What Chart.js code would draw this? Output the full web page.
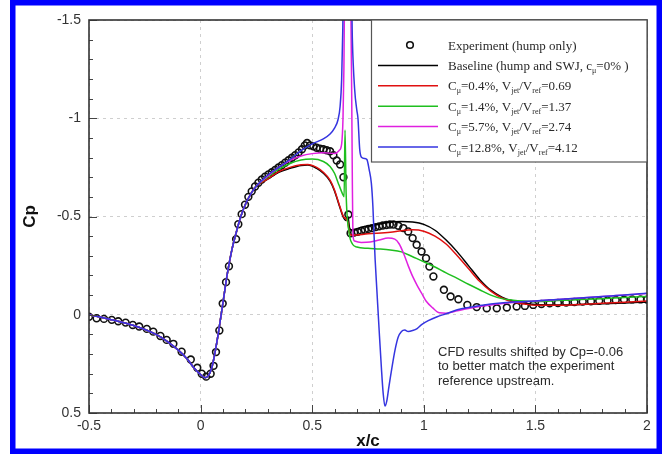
<!DOCTYPE html>
<html>
<head>
<meta charset="utf-8">
<script src="https://cdn.jsdelivr.net/npm/chart.js@4.4.1/dist/chart.umd.min.js"></script>
<style>
  html, body { margin: 0; padding: 0; background: #fff; }
  #cp-chart { display: block; }
</style>
</head>
<body>
<canvas id="cp-chart" width="666" height="454"></canvas>
<script>
// Wall pressure coefficient over the hump: experiment vs. CFD with sweeping jet blowing

const xTicks = [-0.5, 0, 0.5, 1, 1.5, 2];
const yTicks = [-1.5, -1, -0.5, 0, 0.5];

// experiment, hump only
const expX = [-0.5, -0.466, -0.433, -0.398, -0.369, -0.336, -0.304, -0.275, -0.241, -0.212,
  -0.18, -0.152, -0.122, -0.085, -0.044, -0.015, 0.005, 0.025, 0.045, 0.058,
  0.069, 0.084, 0.099, 0.114, 0.127, 0.159, 0.169, 0.184, 0.199, 0.214,
  0.229, 0.244, 0.259, 0.274, 0.289, 0.304, 0.319, 0.334, 0.349, 0.364,
  0.379, 0.394, 0.409, 0.424, 0.439, 0.454, 0.467, 0.477, 0.49, 0.505,
  0.52, 0.535, 0.55, 0.565, 0.58, 0.595, 0.61, 0.625, 0.64, 0.662,
  0.672, 0.688, 0.704, 0.72, 0.736, 0.752, 0.768, 0.784, 0.8, 0.816,
  0.832, 0.848, 0.864, 0.886, 0.908, 0.93, 0.95, 0.968, 0.99, 1.01,
  1.025, 1.043, 1.09, 1.12, 1.155, 1.195, 1.237, 1.282, 1.327, 1.372,
  1.416, 1.453, 1.49, 1.527, 1.564, 1.601, 1.638, 1.675, 1.712, 1.749,
  1.786, 1.823, 1.86, 1.897, 1.934, 1.971, 2.0];
const expCp = [0.01, 0.018, 0.021, 0.026, 0.033, 0.04, 0.052, 0.06, 0.072, 0.086,
  0.108, 0.128, 0.148, 0.188, 0.228, 0.27, 0.3, 0.315, 0.3, 0.26,
  0.19, 0.08, -0.057, -0.166, -0.247, -0.385, -0.461, -0.512, -0.56, -0.6,
  -0.628, -0.653, -0.672, -0.688, -0.703, -0.714, -0.725, -0.737, -0.749, -0.761,
  -0.774, -0.786, -0.799, -0.812, -0.826, -0.842, -0.862, -0.874, -0.862, -0.857,
  -0.85, -0.845, -0.842, -0.837, -0.832, -0.812, -0.785, -0.765, -0.7, -0.51,
  -0.415, -0.418, -0.422, -0.427, -0.432, -0.437, -0.441, -0.446, -0.45, -0.454,
  -0.457, -0.459, -0.459, -0.453, -0.441, -0.424, -0.39, -0.356, -0.322, -0.288,
  -0.245, -0.195, -0.127, -0.093, -0.079, -0.05, -0.039, -0.033, -0.033, -0.037,
  -0.042, -0.045, -0.05, -0.055, -0.058, -0.06, -0.062, -0.065, -0.067, -0.069,
  -0.071, -0.073, -0.075, -0.077, -0.078, -0.078, -0.077];

// all CFD cases share the upstream part of the hump
const upX = [-0.5, -0.4, -0.3, -0.2, -0.15, -0.1, -0.06, -0.03, 0.0, 0.02,
  0.035, 0.05, 0.065, 0.08, 0.1, 0.12, 0.14, 0.16, 0.18, 0.2, 0.225, 0.25];
const upCp = [0.0, 0.025, 0.055, 0.1, 0.135, 0.18, 0.225, 0.27, 0.305, 0.32,
  0.31, 0.27, 0.19, 0.09, -0.06, -0.21, -0.33, -0.42, -0.5, -0.56, -0.615, -0.655];

// baseline, c_mu = 0%
const baseX = [0.3, 0.35, 0.4, 0.45, 0.48, 0.52, 0.55, 0.58, 0.6, 0.62,
  0.64, 0.65, 0.66, 0.668, 0.68, 0.72, 0.8, 0.85, 0.9, 0.95,
  1.0, 1.05, 1.1, 1.15, 1.2, 1.25, 1.3, 1.35, 1.4, 1.45,
  1.5, 1.6, 1.7, 1.8, 1.9, 2.0];
const baseCp = [-0.69, -0.725, -0.745, -0.76, -0.762, -0.745, -0.72, -0.68, -0.63, -0.56,
  -0.495, -0.48, -0.5, -0.44, -0.43, -0.445, -0.462, -0.472, -0.475, -0.472,
  -0.46, -0.43, -0.38, -0.32, -0.25, -0.18, -0.125, -0.09, -0.07, -0.058,
  -0.052, -0.05, -0.052, -0.056, -0.06, -0.065];

// c_mu = 0.4%
const c04X = [0.3, 0.35, 0.4, 0.45, 0.48, 0.52, 0.55, 0.58, 0.6, 0.62,
  0.64, 0.65, 0.66, 0.668, 0.68, 0.75, 0.85, 0.9, 0.95, 1.0,
  1.05, 1.1, 1.15, 1.2, 1.25, 1.3, 1.35, 1.4, 1.45, 1.5,
  1.6, 1.7, 1.8, 1.9, 2.0];
const c04Cp = [-0.69, -0.728, -0.75, -0.763, -0.765, -0.75, -0.725, -0.685, -0.635, -0.565,
  -0.5, -0.49, -0.47, -0.41, -0.405, -0.412, -0.42, -0.428, -0.432, -0.425,
  -0.4, -0.36, -0.3, -0.235, -0.17, -0.12, -0.085, -0.065, -0.055, -0.048,
  -0.048, -0.052, -0.058, -0.064, -0.07];

// c_mu = 1.4%
const c14X = [0.3, 0.35, 0.4, 0.45, 0.5, 0.55, 0.58, 0.6, 0.62, 0.638,
  0.643, 0.647, 0.652, 0.665, 0.68, 0.7, 0.75, 0.8, 0.85, 0.9,
  0.95, 1.0, 1.05, 1.1, 1.15, 1.2, 1.25, 1.3, 1.35, 1.4,
  1.45, 1.5, 1.6, 1.7, 1.8, 1.9, 2.0];
const c14Cp = [-0.7, -0.74, -0.77, -0.788, -0.792, -0.78, -0.755, -0.72, -0.66, -0.61,
  -0.6, -0.94, -0.62, -0.42, -0.36, -0.345, -0.338, -0.335, -0.33, -0.32,
  -0.295, -0.27, -0.243, -0.213, -0.185, -0.155, -0.127, -0.1, -0.082, -0.074,
  -0.07, -0.068, -0.072, -0.077, -0.082, -0.088, -0.093];

// c_mu = 5.7%
const c57X = [0.3, 0.35, 0.4, 0.45, 0.5, 0.55, 0.6, 0.62, 0.632, 0.638,
  0.642, 0.646, 0.672, 0.68, 0.683, 0.69, 0.72, 0.76, 0.8, 0.84,
  0.87, 0.89, 0.91, 0.93, 0.95, 0.97, 0.99, 1.01, 1.04, 1.07,
  1.1, 1.15, 1.2, 1.3, 1.4, 1.5, 1.6, 1.7, 1.8, 1.9, 2.0];
const c57Cp = [-0.705, -0.75, -0.785, -0.808, -0.82, -0.825, -0.82, -0.835, -0.87, -1.0,
  -1.25, -1.7, -1.7, -0.66, -0.4, -0.375, -0.368, -0.37, -0.38, -0.39,
  -0.385, -0.36, -0.31, -0.25, -0.195, -0.15, -0.11, -0.07, -0.035, -0.01,
  -0.008, -0.02, -0.032, -0.05, -0.062, -0.07, -0.078, -0.085, -0.093, -0.1, -0.108];

// c_mu = 12.8%
const c128X = [0.3, 0.35, 0.4, 0.45, 0.5, 0.55, 0.58, 0.6, 0.615, 0.625,
  0.632, 0.637, 0.64, 0.675, 0.68, 0.69, 0.7, 0.705, 0.713, 0.722,
  0.735, 0.745, 0.755, 0.765, 0.772, 0.777, 0.782, 0.79, 0.8, 0.81,
  0.818, 0.826, 0.834, 0.842, 0.85, 0.86, 0.871, 0.885, 0.9, 0.915,
  0.93, 0.95, 0.97, 0.99, 1.02, 1.06, 1.1, 1.15, 1.2, 1.3,
  1.4, 1.5, 1.6, 1.7, 1.8, 1.9, 2.0];
const c128Cp = [-0.71, -0.75, -0.79, -0.835, -0.87, -0.895, -0.92, -0.95, -0.99, -1.06,
  -1.2, -1.45, -1.7, -1.7, -1.4, -1.15, -1.04, -1.0, -0.84, -0.8,
  -0.795, -0.79, -0.74, -0.67, -0.55, -0.41, -0.28, -0.12, 0.08, 0.27,
  0.4, 0.465, 0.44, 0.38, 0.32, 0.25, 0.18, 0.115, 0.085, 0.078,
  0.085, 0.08, 0.07, 0.05, 0.03, 0.01, -0.005, -0.025, -0.037, -0.055,
  -0.065, -0.07, -0.078, -0.085, -0.093, -0.1, -0.11];

// legend text, [text, subscript?]
const legendExp = [['Experiment (hump only)', false]];
const legendBase = [['Baseline (hump and SWJ, c', false], ['\u03bc', true], ['=0% )', false]];
const legendC04 = [['C', false], ['\u03bc', true], ['=0.4%, V', false], ['jet', true], ['/V', false], ['ref', true], ['=0.69', false]];
const legendC14 = [['C', false], ['\u03bc', true], ['=1.4%, V', false], ['jet', true], ['/V', false], ['ref', true], ['=1.37', false]];
const legendC57 = [['C', false], ['\u03bc', true], ['=5.7%, V', false], ['jet', true], ['/V', false], ['ref', true], ['=2.74', false]];
const legendC128 = [['C', false], ['\u03bc', true], ['=12.8%, V', false], ['jet', true], ['/V', false], ['ref', true], ['=4.12', false]];

const noteLines = ['CFD results shifted by Cp=-0.06', 'to better match the experiment', 'reference upstream.'];

const SANS = '"Liberation Sans", Arial, Helvetica, sans-serif';
const SERIF = '"Liberation Serif", "Times New Roman", serif';

function toPoints(xs, ys) {
    return xs.map((x, i) => ({ x: x, y: ys[i] }));
}

function cfdPoints(xs, ys) {
    return toPoints(upX.concat(xs), upCp.concat(ys));
}

const cfdCases = [
    { label: 'Baseline', color: '#000000', pts: cfdPoints(baseX, baseCp), legend: legendBase, order: 4 },
    { label: 'Cmu=0.4%', color: '#e01010', pts: cfdPoints(c04X, c04Cp), legend: legendC04, order: 3 },
    { label: 'Cmu=1.4%', color: '#1fbf1f', pts: cfdPoints(c14X, c14Cp), legend: legendC14, order: 2 },
    { label: 'Cmu=5.7%', color: '#e020e0', pts: cfdPoints(c57X, c57Cp), legend: legendC57, order: 1 },
    { label: 'Cmu=12.8%', color: '#3535e0', pts: cfdPoints(c128X, c128Cp), legend: legendC128, order: 0 }
];

const datasets = [{
    label: 'Experiment',
    data: toPoints(expX, expCp),
    showLine: false,
    pointStyle: 'circle',
    pointRadius: 3.4,
    pointBorderWidth: 1.6,
    pointBorderColor: '#111111',
    pointBackgroundColor: 'rgba(255,255,255,0)',
    order: 5,
    clip: 0
}].concat(cfdCases.map(c => ({
    label: c.label,
    data: c.pts,
    showLine: true,
    borderColor: c.color,
    borderWidth: 1.5,
    pointRadius: 0,
    cubicInterpolationMode: 'monotone',
    order: c.order,
    clip: 0
})));

/**
 * White page with a blue frame round it
 */
const pageFrame = {
    id: 'pageFrame',
    beforeDraw(chart) {
        const ctx = chart.ctx;
        ctx.save();
        ctx.fillStyle = '#ffffff';
        ctx.fillRect(0, 0, chart.width, chart.height);
        ctx.restore();
    },
    afterDraw(chart) {
        const ctx = chart.ctx;
        ctx.save();
        ctx.strokeStyle = '#0000ff';
        ctx.lineWidth = 5.5;
        ctx.strokeRect(12.75, 2.75, 646.5, 448.5);
        ctx.restore();
    }
};

/**
 * Plot frame and inward major/minor tick marks on the left and bottom axes
 */
const axisDecor = {
    id: 'axisDecor',
    afterDatasetsDraw(chart) {
        const { ctx, chartArea: a, scales: { x, y } } = chart;
        ctx.save();
        ctx.strokeStyle = '#444444';
        ctx.lineWidth = 1;
        ctx.beginPath();
        for (let i = -5; i <= 20; i++) {
            const px = Math.round(x.getPixelForValue(i / 10)) + 0.5;
            const len = i % 5 === 0 ? 8 : 4;
            ctx.moveTo(px, a.bottom);
            ctx.lineTo(px, a.bottom - len);
        }
        for (let i = -15; i <= 5; i++) {
            const py = Math.round(y.getPixelForValue(i / 10)) + 0.5;
            const len = i % 5 === 0 ? 8 : 4;
            ctx.moveTo(a.left, py);
            ctx.lineTo(a.left + len, py);
        }
        ctx.stroke();
        ctx.strokeStyle = '#333333';
        ctx.lineWidth = 1.6;
        ctx.strokeRect(a.left, a.top, a.right - a.left, a.bottom - a.top);
        ctx.restore();
    }
};

function drawRich(ctx, parts, x, y) {
    let cx = x;
    parts.forEach(([text, sub]) => {
        ctx.font = (sub ? '8px ' : '13px ') + SERIF;
        ctx.fillText(text, cx, sub ? y + 3 : y);
        cx += ctx.measureText(text).width;
    });
}

/**
 * Boxed legend in the upper right corner of the plot
 */
const legendBox = {
    id: 'legendBox',
    afterDraw(chart) {
        const { ctx, chartArea: a } = chart;
        const left = a.right - 276;
        const top = a.top;
        const bottom = a.top + 142;
        ctx.save();
        ctx.fillStyle = '#ffffff';
        ctx.fillRect(left, top, a.right - left, bottom - top);
        ctx.strokeStyle = '#555555';
        ctx.lineWidth = 1.2;
        ctx.strokeRect(left + 0.5, top, a.right - left - 0.5, bottom - top);

        const rowY = i => top + 25 + i * 20.4;
        const lineX0 = left + 7;
        const lineX1 = left + 67;
        const textX = left + 77;
        ctx.textBaseline = 'alphabetic';
        ctx.fillStyle = '#2a2a2a';

        // experiment marker
        ctx.beginPath();
        ctx.arc((lineX0 + lineX1) / 2 + 2, rowY(0), 3.3, 0, Math.PI * 2);
        ctx.strokeStyle = '#111111';
        ctx.lineWidth = 1.6;
        ctx.stroke();
        drawRich(ctx, legendExp, textX, rowY(0) + 4.5);

        cfdCases.forEach((c, i) => {
            const yy = rowY(i + 1);
            ctx.beginPath();
            ctx.moveTo(lineX0, yy);
            ctx.lineTo(lineX1, yy);
            ctx.strokeStyle = c.color;
            ctx.lineWidth = 1.5;
            ctx.stroke();
            drawRich(ctx, c.legend, textX, yy + 4.5);
        });
        ctx.restore();
    }
};

/**
 * Note about the Cp shift in the lower right
 */
const noteText = {
    id: 'noteText',
    afterDraw(chart) {
        const { ctx, chartArea: a } = chart;
        ctx.save();
        ctx.font = '13px ' + SANS;
        ctx.fillStyle = '#2a2a2a';
        ctx.textBaseline = 'middle';
        noteLines.forEach((t, i) => {
            ctx.fillText(t, a.left + 349, a.top + 332 + i * 14.5);
        });
        ctx.restore();
    }
};

const tickFont = { family: SANS, size: 14 };
const titleFont = { family: SANS, size: 17, weight: 'bold' };

new Chart(document.getElementById('cp-chart'), {
    type: 'scatter',
    data: { datasets: datasets },
    options: {
        responsive: false,
        animation: false,
        layout: { padding: { left: 0, right: 19, top: 20, bottom: 0 } },
        plugins: {
            legend: { display: false },
            tooltip: { enabled: false }
        },
        scales: {
            x: {
                type: 'linear',
                min: -0.5,
                max: 2,
                afterBuildTicks: s => { s.ticks = xTicks.map(v => ({ value: v })); },
                afterFit: s => { s.height = 41; },
                grid: { color: '#cfcfcf', drawTicks: false, lineWidth: 1 },
                border: { display: false, dash: [3, 4] },
                ticks: { color: '#333333', font: tickFont, padding: 5, callback: v => String(v) },
                title: { display: true, text: 'x/c', color: '#111111', font: titleFont, padding: { top: 0, bottom: 2 } }
            },
            y: {
                type: 'linear',
                reverse: true,
                min: -1.5,
                max: 0.5,
                afterBuildTicks: s => { s.ticks = yTicks.map(v => ({ value: v })); },
                afterFit: s => { s.width = 89; },
                grid: { color: '#cfcfcf', drawTicks: false, lineWidth: 1 },
                border: { display: false, dash: [3, 4] },
                ticks: { color: '#333333', font: tickFont, padding: 8, callback: v => String(v) },
                title: { display: true, text: 'Cp', color: '#111111', font: titleFont, padding: { top: 20, bottom: 0 } }
            }
        }
    },
    plugins: [pageFrame, axisDecor, legendBox, noteText]
});
</script>
</body>
</html>
